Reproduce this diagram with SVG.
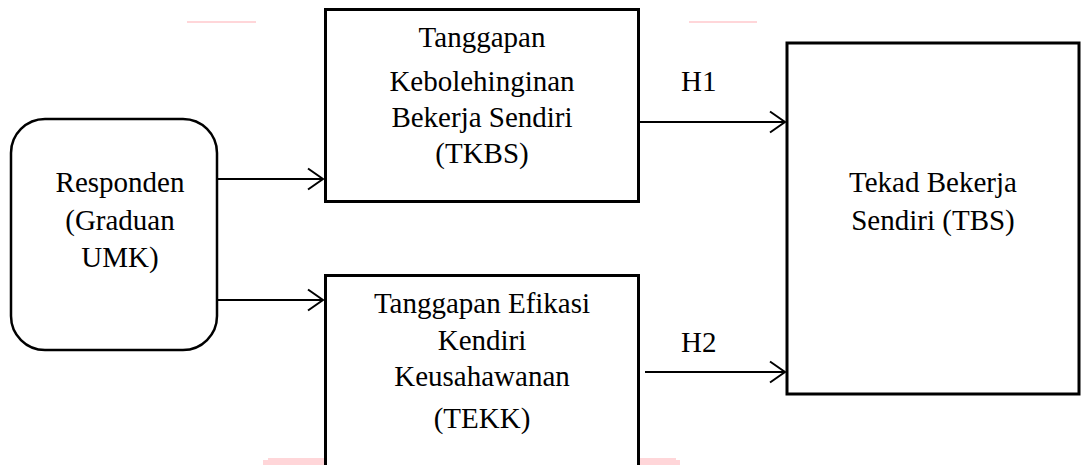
<svg xmlns="http://www.w3.org/2000/svg" width="1081" height="465" viewBox="0 0 1081 465">
<style>
  .box{fill:#fff;stroke:#000;stroke-width:3}
  .rbox{fill:#fff;stroke:#000;stroke-width:2.5}
  .t{font-family:'Liberation Serif','DejaVu Serif',serif;font-size:29px;fill:#000;text-anchor:middle}
  .lbl{font-family:'Liberation Serif','DejaVu Serif',serif;font-size:29px;fill:#000}
  .edge{stroke:#000;stroke-width:2;fill:none;marker-end:url(#arr)}
  .wmr{fill:#ffd6d9}
  .wmb{fill:#d2ecfa}
</style>
<defs>
  <marker id="arr" markerUnits="userSpaceOnUse" markerWidth="20" markerHeight="26" refX="16" refY="12" orient="auto">
    <path d="M1,1.5 L16,12 L1,22.5" fill="none" stroke="#000" stroke-width="2"/>
  </marker>
</defs>
<rect width="1081" height="465" fill="#fff"/>
<g id="watermark">
  <rect class="wmr" x="187" y="21" width="69" height="2"/>
  <rect class="wmb" x="356" y="21" width="48" height="2"/>
  <rect class="wmb" x="542" y="21" width="48" height="2"/>
  <rect class="wmr" x="689" y="21" width="68" height="2"/>
  <path class="wmr" d="M263,465 L263,460 L268,460 L268,458 L437,458 L431,465 Z"/>
  <path class="wmb" d="M437,458 L448,458 L448,465 L431,465 Z"/>
  <path class="wmb" d="M494,458 L503,458 L509,465 L494,465 Z"/>
  <path class="wmr" d="M503,458 L676,458 L676,460 L680,460 L680,465 L509,465 Z"/>
</g>
<g id="connectors">
  <line class="edge" x1="218" y1="179" x2="323" y2="179"/>
  <line class="edge" x1="218" y1="300" x2="323" y2="300"/>
  <line class="edge" x1="638" y1="122" x2="785" y2="122"/>
  <line class="edge" x1="645" y1="372" x2="785" y2="372"/>
  <text class="lbl" x="681" y="91">H1</text>
  <text class="lbl" x="681" y="352">H2</text>
</g>
<g id="responden">
  <rect class="rbox" x="11" y="119" width="206" height="231" rx="34" ry="34"/>
  <text class="t" x="120" y="192">Responden</text>
  <text class="t" x="120" y="230">(Graduan</text>
  <text class="t" x="120" y="267">UMK)</text>
</g>
<g id="tkbs">
  <rect class="box" x="325.5" y="9.5" width="313" height="192"/>
  <text class="t" x="482" y="47">Tanggapan</text>
  <text class="t" x="482" y="91">Kebolehinginan</text>
  <text class="t" x="482" y="127">Bekerja Sendiri</text>
  <text class="t" x="482" y="163">(TKBS)</text>
</g>
<g id="tekk">
  <rect class="box" x="325.5" y="275.5" width="313" height="200"/>
  <text class="t" x="482" y="313">Tanggapan Efikasi</text>
  <text class="t" x="482" y="350">Kendiri</text>
  <text class="t" x="482" y="386">Keusahawanan</text>
  <text class="t" x="482" y="428">(TEKK)</text>
</g>
<g id="tbs">
  <rect class="box" x="787" y="43" width="292" height="351"/>
  <text class="t" x="933" y="192">Tekad Bekerja</text>
  <text class="t" x="933" y="230">Sendiri (TBS)</text>
</g>
</svg>
